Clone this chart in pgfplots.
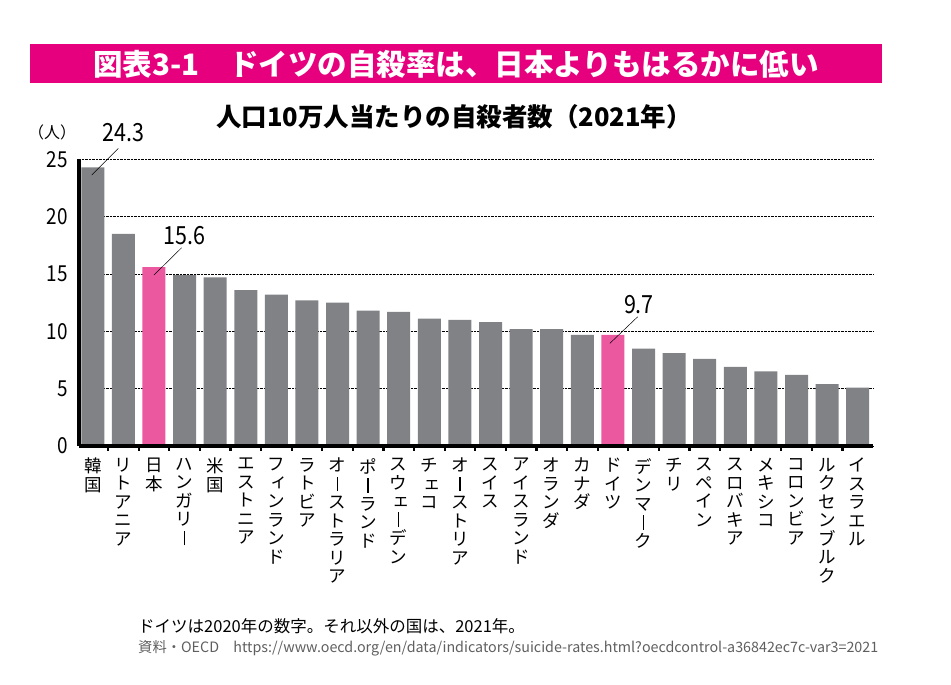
\documentclass[border=0pt]{standalone}
\usepackage{fontspec}
\usepackage{pgfplots}
\pgfplotsset{compat=1.18}
\setmainfont{Noto Sans CJK JP}
\newfontfamily\numf[FakeStretch=0.86]{Noto Sans CJK JP}
\definecolor{barg}{RGB}{128,130,133}
\definecolor{barp}{RGB}{236,88,160}
\definecolor{mag}{RGB}{230,0,126}
\definecolor{srcgray}{RGB}{95,95,95}
\newcommand\sk[1]{\makebox[1em][c]{\raisebox{0.06em}{\kern0.14em#1\kern-0.14em}}}
\newcommand\cho{\makebox[1em][c]{\rule[-0.06em]{0.075em}{0.84em}}}
\begin{document}
\begin{tikzpicture}[x=1pt,y=1pt]
\path[use as bounding box] (0,0) rectangle (951,685);
\fill[mag] (30,601.7) rectangle (882,641);
\node[text=white,font=\fontsize{29.5}{32}\selectfont\bfseries,inner sep=0pt] at (456,621) {図表3-1　ドイツの自殺率は、日本よりもはるかに低い};
\node[font=\fontsize{25.5}{28}\selectfont\bfseries,inner sep=0pt] at (454,568) {人口10万人当たりの自殺者数（2021年）};
\node[font=\fontsize{16}{18}\selectfont,inner sep=0pt] at (52,553) {（人）};
\node[font=\fontsize{16.5}{18}\selectfont,inner sep=0pt,anchor=west] at (138,59) {ドイツは2020年の数字。それ以外の国は、2021年。};
\node[font=\fontsize{14.3}{16}\selectfont,text=srcgray,inner sep=0pt,anchor=west] at (138,37) {資料・OECD\quad https://www.oecd.org/en/data/indicators/suicide-rates.html?oecdcontrol-a36842ec7c-var3=2021};
\begin{axis}[
  at={(79pt,239pt)}, anchor=south west,
  scale only axis, width=794pt, height=286.7pt,
  xmin=-0.45, xmax=25.5, ymin=0, ymax=25,
  axis x line*=bottom, axis y line*=left,
  axis line style={-, line width=3.6pt, black},
  ytick={0,5,...,25},
  ymajorgrids, grid style={densely dotted, line width=0.7pt, black},
  ytick style={draw=none},
  xtick={0,...,25},
  major tick length=0pt,
  minor xtick={0.5,1.5,...,24.5},
  minor tick length=5pt,
  tick align=inside,
  minor x tick style={line width=2.2pt, black},
  xticklabels={
    韓\\国,
    リ\\ト\\ア\\ニ\\ア,
    日\\本,
    ハ\\ン\\ガ\\リ\\\cho,
    米\\国,
    エ\\ス\\ト\\ニ\\ア,
    フ\\\sk{ィ}\\ン\\ラ\\ン\\ド,
    ラ\\ト\\ビ\\ア,
    オ\\\cho\\ス\\ト\\ラ\\リ\\ア,
    ポ\\\cho\\ラ\\ン\\ド,
    ス\\ウ\\\sk{ェ}\\\cho\\デ\\ン,
    チ\\\sk{ェ}\\コ,
    オ\\\cho\\ス\\ト\\リ\\ア,
    ス\\イ\\ス,
    ア\\イ\\ス\\ラ\\ン\\ド,
    オ\\ラ\\ン\\ダ,
    カ\\ナ\\ダ,
    ド\\イ\\ツ,
    デ\\ン\\マ\\\cho\\ク,
    チ\\リ,
    ス\\ペ\\イ\\ン,
    ス\\ロ\\バ\\キ\\ア,
    メ\\キ\\シ\\コ,
    コ\\ロ\\ン\\ビ\\ア,
    ル\\ク\\セ\\ン\\ブ\\ル\\ク,
    イ\\ス\\ラ\\エ\\ル},
  xticklabel style={font=\fontsize{17.5}{18.5}\selectfont, anchor=north, align=center, inner sep=0pt},
  xticklabel shift=12pt,
  yticklabel style={font=\numf\fontsize{22}{22}\selectfont, anchor=east, inner sep=0pt, xshift=-11pt},
  /pgf/number format/assume math mode=true,
  ybar, bar width=23pt, bar shift=0pt,
  clip=false,
]
\addplot[fill=barg, draw=none] coordinates {
(0,24.3) (1,18.5) (3,14.9) (4,14.7) (5,13.6) (6,13.2) (7,12.7) (8,12.5)
(9,11.8) (10,11.7) (11,11.1) (12,11.0) (13,10.8) (14,10.2) (15,10.2)
(16,9.7) (18,8.5) (19,8.1) (20,7.6) (21,6.9) (22,6.5) (23,6.2) (24,5.4) (25,5.1)};
\addplot[fill=barp, draw=none] coordinates {(2,15.6) (17,9.7)};
\draw[line width=3.6pt, black] (axis cs:-0.45,0) -- (axis cs:25.5,0);
\draw[line width=0.5pt] (axis cs:-0.035,23.63) -- (axis cs:0.834,25.95);
\draw[line width=0.5pt] (axis cs:2.0,14.91) -- (axis cs:2.906,17.29);
\draw[line width=0.5pt] (axis cs:16.9,8.95) -- (axis cs:17.81,11.27);
\node[font=\numf\fontsize{25}{25}\selectfont, inner sep=0pt] at (axis cs:0.99,27.29) {24.3};
\node[font=\numf\fontsize{25}{25}\selectfont, inner sep=0pt] at (axis cs:3.01,18.31) {15.6};
\node[font=\numf\fontsize{25}{25}\selectfont, inner sep=0pt] at (axis cs:17.85,12.29) {9.7};
\end{axis}
\end{tikzpicture}
\end{document}
